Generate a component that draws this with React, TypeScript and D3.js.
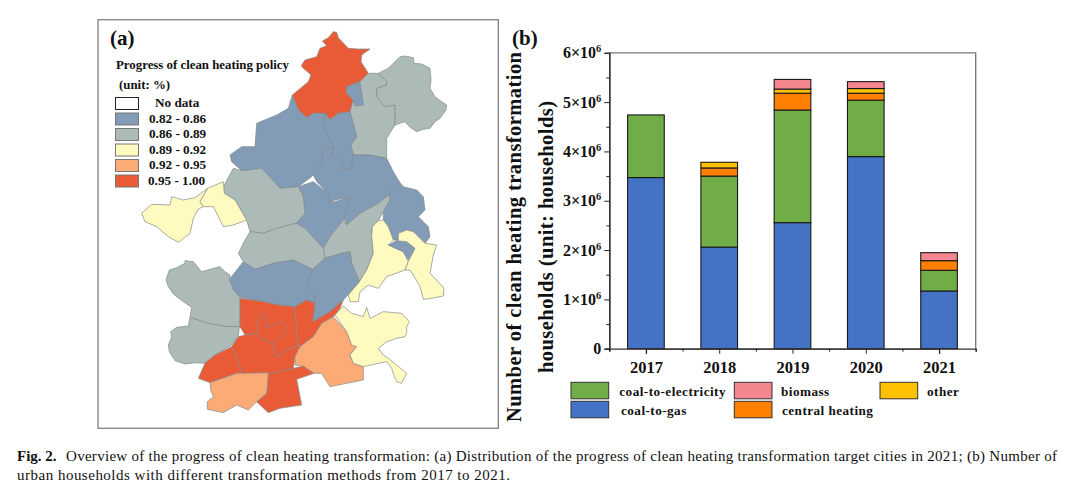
import React, { useEffect, useRef } from 'react';
import * as d3 from 'd3';

const YEARS = ['2017', '2018', '2019', '2020', '2021'];
// stacked from the bottom up, households in millions
const COAL_TO_GAS = [3.47, 2.06, 2.556, 3.895, 1.17];
const COAL_TO_ELECTRICITY = [1.27, 1.44, 2.284, 1.145, 0.42];
const CENTRAL_HEATING = [0, 0.165, 0.34, 0.14, 0.195];
const OTHER = [0, 0.115, 0.085, 0.095, 0];
const BIOMASS = [0, 0, 0.195, 0.14, 0.162];

const STACK_KEYS = ['gas', 'electricity', 'central', 'other', 'biomass'];
const STACK_COLORS = ['#4472C4', '#70AD47', '#FF8000', '#FFC000', '#F4868F'];
const Y_TICKS = [0, 1, 2, 3, 4, 5, 6];
const Y_MINOR_TICKS = [0.5, 1.5, 2.5, 3.5, 4.5, 5.5];

const MAP_BREAKS = [0.86, 0.89, 0.92, 0.95];
const MAP_COLORS = ['#829BB6', '#ADBBB8', '#FFFBC0', '#FCAB77', '#E95B37'];
const MAP_LEGEND_LABELS = ['0.82 - 0.86', '0.86 - 0.89', '0.89 - 0.92', '0.92 - 0.95', '0.95 - 1.00'];

const CITY_PROGRESS = [
  0.97, 0.84, 0.875, 0.875, 0.84, 0.84, 0.84, 0.84, 0.875, 0.875, 0.875, 0.84, 0.905, 0.84, 0.905,
  0.84, 0.84, 0.875, 0.875, 0.97, 0.97, 0.97, 0.97, 0.97, 0.97, 0.935, 0.935, 0.905, 0.905, 0.905,
];
const CITY_OUTLINES: number[][][] = [
  [[515,75],[525,60],[560,50],[570,25],[590,17],[577,3],[595,-7],[610,-25],[620,-23],[625,-7],[655,25],[685,27],[720,27],[695,45],[693,65],[715,100],[690,125],[650,140],[650,160],[670,180],[660,215],[625,220],[600,240],[585,220],[550,220],[530,233],[505,210],[487,165],[535,125],[543,105],[515,80]],
  [[650,140],[690,125],[700,195],[675,198],[670,180],[650,160]],
  [[690,125],[715,100],[745,100],[770,125],[770,135],[740,145],[740,170],[765,200],[795,195],[795,255],[770,295],[770,355],[720,345],[670,345],[662,315],[680,290],[660,215],[670,180],[675,198],[700,195]],
  [[745,100],[775,85],[810,50],[825,48],[850,53],[852,70],[875,72],[900,85],[903,120],[900,145],[915,170],[935,185],[950,195],[948,210],[930,235],[915,245],[900,265],[880,268],[860,275],[840,262],[825,245],[810,250],[795,255],[795,195],[765,200],[740,170],[740,145],[770,135],[770,125]],
  [[487,165],[505,210],[530,233],[550,220],[585,220],[580,260],[610,320],[580,330],[575,370],[545,410],[505,440],[450,445],[395,385],[335,392],[305,365],[300,345],[335,320],[375,320],[380,250],[440,225],[475,205]],
  [[585,220],[600,240],[625,220],[660,215],[680,290],[662,315],[670,345],[665,385],[640,390],[630,360],[605,345],[610,320],[580,260]],
  [[580,330],[610,320],[605,345],[630,360],[640,390],[665,385],[670,345],[720,345],[770,355],[790,395],[808,425],[785,450],[778,465],[745,490],[690,520],[650,555],[640,530],[660,470],[615,480],[600,490],[595,460],[560,425],[550,405],[575,370]],
  [[505,440],[550,425],[595,460],[600,490],[660,470],[640,540],[600,590],[580,625],[525,565],[498,550],[525,520],[520,470]],
  [[280,440],[310,385],[335,392],[395,385],[450,445],[505,440],[520,470],[525,520],[498,550],[440,565],[400,580],[360,575],[350,540],[315,480],[283,460]],
  [[360,575],[400,580],[440,565],[498,550],[525,565],[580,625],[585,655],[548,688],[520,675],[490,660],[430,670],[375,688],[340,665],[325,640],[345,600]],
  [[580,625],[600,590],[640,540],[650,555],[690,520],[745,490],[778,465],[780,480],[760,515],[745,542],[727,560],[725,590],[730,640],[710,690],[688,725],[665,670],[660,635],[635,640],[585,655]],
  [[778,465],[785,450],[808,425],[820,440],[860,450],[880,470],[885,510],[865,530],[895,560],[900,590],[885,610],[850,575],[830,570],[805,580],[805,600],[790,600],[775,560],[760,540],[760,515],[780,480]],
  [[745,542],[760,540],[775,560],[790,600],[775,615],[820,635],[835,665],[825,690],[770,710],[745,745],[715,735],[690,755],[685,785],[660,785],[655,765],[688,725],[710,690],[730,640],[725,590],[727,560]],
  [[775,615],[800,602],[830,605],[855,625],[835,660],[820,635]],
  [[805,580],[830,570],[850,575],[885,610],[920,615],[910,645],[900,700],[920,720],[942,745],[940,768],[905,775],[880,778],[870,740],[865,730],[840,690],[825,690],[835,665],[855,625],[830,605],[800,602],[805,600]],
  [[298,718],[340,665],[375,688],[430,670],[490,660],[520,675],[548,688],[530,730],[555,768],[555,790],[530,780],[495,800],[445,795],[400,785],[330,772],[310,750]],
  [[548,688],[585,655],[635,640],[660,635],[665,670],[688,725],[640,780],[600,815],[548,845],[555,790],[555,768],[530,730]],
  [[108,720],[118,690],[140,683],[165,670],[165,662],[190,665],[215,695],[240,688],[270,680],[285,695],[300,705],[298,718],[310,750],[330,772],[330,860],[290,860],[235,850],[185,835],[180,832],[185,802],[160,785],[130,762],[115,740]],
  [[180,832],[235,850],[290,860],[328,860],[325,890],[305,915],[255,945],[225,970],[195,968],[165,972],[135,962],[118,935],[115,915],[125,890],[122,875],[140,862],[175,858]],
  [[330,775],[400,785],[445,795],[495,800],[500,880],[505,915],[470,930],[445,950],[435,945],[430,910],[400,900],[380,880],[345,885],[330,860]],
  [[380,880],[380,840],[400,820],[410,840],[405,860],[420,860],[455,845],[470,860],[460,885],[430,910],[400,900]],
  [[495,800],[530,780],[555,790],[548,845],[600,815],[640,780],[630,805],[610,830],[575,850],[550,890],[510,920],[505,915],[500,880]],
  [[345,885],[380,880],[400,900],[430,910],[435,945],[445,950],[470,930],[505,915],[510,920],[495,950],[490,985],[420,1002],[340,1005],[305,920],[325,890]],
  [[305,920],[340,1005],[320,1000],[240,1028],[205,1015],[225,970],[255,945]],
  [[415,1002],[490,985],[520,978],[552,1000],[500,1018],[515,1095],[450,1105],[415,1118],[380,1085],[410,1060]],
  [[240,1028],[320,1000],[415,998],[410,1060],[380,1085],[355,1110],[320,1095],[280,1118],[232,1108],[232,1085],[250,1070],[242,1050]],
  [[495,950],[510,920],[550,890],[575,850],[610,830],[650,875],[665,915],[680,920],[660,945],[670,970],[700,980],[700,1020],[650,1030],[600,1040],[575,1000],[552,1000],[520,978],[495,975]],
  [[615,825],[640,798],[665,820],[700,830],[710,802],[720,835],[760,815],[815,820],[838,845],[830,860],[830,880],[825,890],[800,895],[770,905],[745,925],[760,945],[775,955],[800,975],[830,1000],[822,1015],[815,1030],[800,1025],[795,1015],[785,985],[770,965],[745,970],[700,980],[670,970],[660,945],[680,920],[665,915],[650,875]],
  [[35,520],[65,493],[120,495],[125,470],[160,480],[195,473],[233,445],[210,485],[220,500],[205,507],[190,535],[180,580],[145,607],[115,590],[80,560],[45,545]],
  [[233,445],[280,425],[283,460],[315,480],[350,540],[310,555],[280,560],[255,510],[250,500],[220,500],[210,485]],
];

const CAPTION_1 = 'Overview of the progress of clean heating transformation: (a) Distribution of the progress of clean heating transformation target cities in 2021; (b) Number of';
const CAPTION_2 = 'urban households with different transformation methods from 2017 to 2021.';

const SERIF = '"Liberation Serif", serif';

export default function App() {
  const svgRef = useRef<SVGSVGElement>(null);

  useEffect(() => {
    if (!svgRef.current) return;
    const svg = d3.select(svgRef.current);
    svg.selectAll('*').remove();
    svg.attr('font-family', SERIF).attr('font-weight', 700).attr('fill', '#111');

    const label = (x: number, y: number, s: string, size: number) =>
      svg.append('text').attr('x', x).attr('y', y).attr('font-size', size).text(s);

    // panel (a)
    svg.append('rect').attr('x', 98).attr('y', 19.7).attr('width', 400.3).attr('height', 408.6)
      .attr('fill', 'white').attr('stroke', '#8a8a8a').attr('stroke-width', 1.4);
    label(110, 45, '(a)', 21);
    label(116, 69, 'Progress of clean heating policy', 12.85);
    label(119, 89, '(unit: %)', 12.85);

    const mapColor = d3.scaleThreshold<number, string>().domain(MAP_BREAKS).range(MAP_COLORS);
    const projection = d3.geoIdentity().scale(1 / 3).translate([130, 40]);
    const geoPath = d3.geoPath(projection);
    svg.append('g').selectAll('path')
      .data(CITY_OUTLINES.map((ring, i) => ({
        type: 'Feature',
        properties: { progress: CITY_PROGRESS[i] },
        geometry: { type: 'Polygon', coordinates: [[...ring, ring[0]]] },
      })))
      .join('path')
      .attr('d', geoPath as any)
      .attr('fill', (d: any) => mapColor(d.properties.progress))
      .attr('stroke', '#85898a')
      .attr('stroke-width', 0.7)
      .attr('stroke-linejoin', 'round');

    // map legend
    const legendY = d3.scaleLinear().domain([0, 1]).range([97.5, 113]);
    ['No data', ...MAP_LEGEND_LABELS].forEach((s, i) => {
      svg.append('rect').attr('x', 115.5).attr('y', legendY(i)).attr('width', 23).attr('height', 12)
        .attr('fill', i === 0 ? 'white' : MAP_COLORS[i - 1])
        .attr('stroke', i === 0 ? '#222' : '#777').attr('stroke-width', 1);
      label(i === 0 ? 155 : i === 5 ? 148 : 149, legendY(i) + 9.5, s, 13.2);
    });

    // panel (b)
    const x = d3.scaleBand().domain(YEARS).range([609.3, 975.7]).paddingInner(0.5).paddingOuter(0.25);
    const y = d3.scaleLinear().domain([0, 6]).range([348.7, 52.8]);

    const rows = YEARS.map((year, i) => ({
      year,
      gas: COAL_TO_GAS[i],
      electricity: COAL_TO_ELECTRICITY[i],
      central: CENTRAL_HEATING[i],
      other: OTHER[i],
      biomass: BIOMASS[i],
    }));
    const stacked = d3.stack<any>().keys(STACK_KEYS)(rows);

    stacked.forEach((layer, k) => {
      svg.append('g').selectAll('rect')
        .data(layer.filter((d) => d[1] > d[0]))
        .join('rect')
        .attr('x', (d) => x(d.data.year)!)
        .attr('y', (d) => y(d[1]))
        .attr('width', x.bandwidth())
        .attr('height', (d) => y(d[0]) - y(d[1]))
        .attr('fill', STACK_COLORS[k])
        .attr('stroke', '#1a1a1a')
        .attr('stroke-width', 1.1);
    });

    // frame top and right are lighter than the axes
    svg.append('path').attr('d', 'M609.3,52.8H975.7V348.7').attr('fill', 'none').attr('stroke', '#777').attr('stroke-width', 1.3);

    const yAxis = svg.append('g').attr('transform', 'translate(609.3,0)')
      .call(d3.axisLeft(y).tickValues(Y_TICKS).tickSize(5).tickPadding(3));
    yAxis.selectAll('text').each(function (d: any) {
      const t = d3.select(this).attr('font-size', 16).attr('font-family', SERIF).attr('fill', '#111');
      t.text(null);
      if (d === 0) { t.text('0'); return; }
      t.append('tspan').text(`${d}×10`);
      t.append('tspan').attr('dy', -6).attr('font-size', 10.5).text('6');
    });
    svg.append('g').attr('transform', 'translate(609.3,0)')
      .call(d3.axisLeft(y).tickValues(Y_MINOR_TICKS).tickSize(3).tickFormat(() => ''));

    const xAxis = svg.append('g').attr('transform', 'translate(0,348.7)')
      .call(d3.axisBottom(d3.scalePoint().domain(YEARS).range([x('2017')! + x.bandwidth() / 2, x('2021')! + x.bandwidth() / 2])).tickSize(5).tickPadding(8));
    xAxis.selectAll('text').attr('font-size', 16.5).attr('font-family', SERIF).attr('fill', '#111');
    const minorX = d3.scaleLinear().domain([0, 5]).range([609.3, 975.7]);
    svg.append('g').attr('transform', 'translate(0,348.7)')
      .call(d3.axisBottom(minorX).ticks(5).tickSize(3).tickFormat(() => ''));
    svg.selectAll('.domain').attr('stroke', '#333').attr('stroke-width', 1.3);
    svg.selectAll('.tick line').attr('stroke', '#222').attr('stroke-width', 1);

    label(512, 45, '(b)', 21);
    const title = (tx: number, s: string, len: number) =>
      svg.append('text').attr('transform', `translate(${tx},${237}) rotate(-90)`).attr('text-anchor', 'middle')
        .attr('font-size', 20.5).attr('textLength', len).attr('lengthAdjust', 'spacing').text(s);
    title(521, 'Number of clean heating transformation', 370);
    title(553, 'households (unit: households)', 272);

    // bar legend
    const barLegend: [number, number, string, string, number][] = [
      [571, 382.3, STACK_COLORS[1], 'coal-to-electricity', 619.3],
      [571, 401.3, STACK_COLORS[0], 'coal-to-gas', 621],
      [734.3, 382.3, STACK_COLORS[4], 'biomass', 781],
      [734.3, 401.3, STACK_COLORS[2], 'central heating', 782],
      [880, 382.3, STACK_COLORS[3], 'other', 927],
    ];
    barLegend.forEach(([lx, ly, c, s, tx]) => {
      svg.append('rect').attr('x', lx).attr('y', ly).attr('width', 37.7).attr('height', 16.5)
        .attr('fill', c).attr('stroke', '#333').attr('stroke-width', 1);
      label(tx, ly + 13.3, s, 13.2).attr('letter-spacing', 0.45);
    });

    // caption
    const cap = svg.append('g').attr('font-size', 15).attr('font-weight', 400).attr('fill', '#111');
    const line1 = cap.append('text').attr('x', 17).attr('y', 461);
    line1.append('tspan').attr('font-weight', 700).text('Fig. 2.');
    line1.append('tspan').attr('x', 66).attr('textLength', 991).attr('lengthAdjust', 'spacing').text(CAPTION_1);
    cap.append('text').attr('x', 17).attr('y', 480).attr('textLength', 493).attr('lengthAdjust', 'spacing').text(CAPTION_2);
  }, []);

  return (
    <svg ref={svgRef} width={1080} height={486}
      style={{ position: 'absolute', left: 0, top: 0, display: 'block', background: 'white' }} />
  );
}
